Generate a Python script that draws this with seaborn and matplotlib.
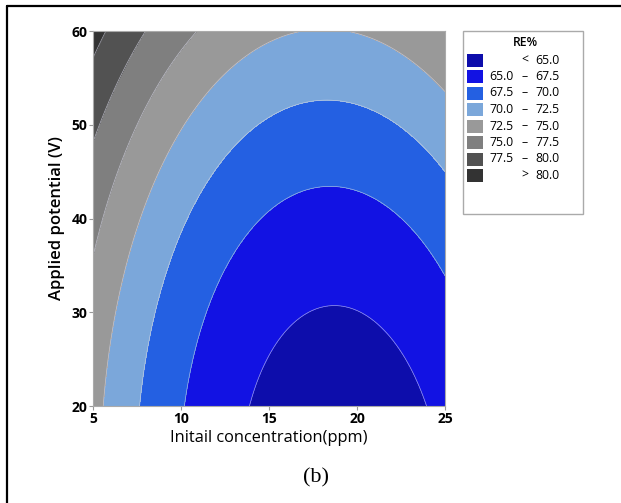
import numpy as np
import pandas as pd
import matplotlib
matplotlib.use('Agg')
import matplotlib.pyplot as plt
import seaborn as sns
from matplotlib.patches import Rectangle
from matplotlib.lines import Line2D

# contour crossings: (concentration, potential, RE%)
pts_conc = [13.9, 23.8, 18.7, 14.7, 22.9,
            10.2, 18.6, 25.0, 11.25,
            7.67, 18.3, 25.0, 9.94,
            5.57, 18.0, 25.0, 8.1, 9.8,
            5.0, 10.8, 7.67,
            5.0, 7.95,
            5.0, 5.74]
pts_volt = [20.0, 20.0, 29.8, 25.0, 25.0,
            20.0, 42.7, 34.2, 30.0,
            20.0, 52.3, 45.5, 40.0,
            20.0, 60.0, 53.5, 40.0, 50.0,
            36.3, 60.0, 50.0,
            47.8, 60.0,
            57.2, 60.0]
pts_re = [65.0, 65.0, 65.0, 65.0, 65.0,
          67.5, 67.5, 67.5, 67.5,
          70.0, 70.0, 70.0, 70.0,
          72.5, 72.5, 72.5, 72.5, 72.5,
          75.0, 75.0, 75.0,
          77.5, 77.5,
          80.0, 80.0]

levels = [65.0, 67.5, 70.0, 72.5, 75.0, 77.5, 80.0]
level_colors = ['#0d0dab', '#1212e3', '#2460e2', '#7ba7da',
                '#999999', '#7f7f7f', '#525252', '#333333']
legend_labels = [('', '<', '65.0'), ('65.0', '–', '67.5'), ('67.5', '–', '70.0'),
                 ('70.0', '–', '72.5'), ('72.5', '–', '75.0'), ('75.0', '–', '77.5'),
                 ('77.5', '–', '80.0'), ('', '>', '80.0')]

df = pd.DataFrame({'x': pts_conc, 'y': pts_volt, 're': pts_re})

# full quadratic response surface fitted to the read crossings
A = np.column_stack([np.ones(len(df)), df.x, df.y, df.x**2, df.y**2, df.x*df.y])
coef, *_ = np.linalg.lstsq(A, df.re.values, rcond=None)

gx, gy = np.meshgrid(np.linspace(5, 25, 300), np.linspace(20, 60, 300))
gz = (coef[0] + coef[1]*gx + coef[2]*gy + coef[3]*gx**2
      + coef[4]*gy**2 + coef[5]*gx*gy)

sns.set_theme(style='white')
plt.rcParams['font.family'] = ['Open Sans', 'DejaVu Sans']
plt.rcParams['text.color'] = 'black'
plt.rcParams['axes.labelcolor'] = 'black'
plt.rcParams['xtick.color'] = 'black'
plt.rcParams['ytick.color'] = 'black'

fig = plt.figure(figsize=(6.21, 5.03), dpi=100)
ax = fig.add_axes([0.1498, 0.1928, 0.5668, 0.7455])

bounds = [min(gz.min(), 60) - 1] + levels + [max(gz.max(), 85) + 1]
ax.contourf(gx, gy, gz, levels=bounds, colors=level_colors)
ax.contour(gx, gy, gz, levels=levels, colors='#d8d8e8', linewidths=0.5, alpha=0.7)

ax.set_xlim(5, 25)
ax.set_ylim(20, 60)
ax.set_xticks([5, 10, 15, 20, 25])
ax.set_yticks([20, 30, 40, 50, 60])
ax.tick_params(axis='both', which='both', direction='out', length=3, width=0.8,
               color='#999999', labelcolor='black', labelsize=10, pad=1,
               left=True, bottom=True)
for lab in ax.get_xticklabels() + ax.get_yticklabels():
    lab.set_fontweight('bold')
for s in ax.spines.values():
    s.set_color('#aaaaaa')
    s.set_linewidth(0.8)

ax.set_xlabel('Initail concentration(ppm)', fontsize=11.8, labelpad=3)
ax.set_ylabel('Applied potential (V)', fontsize=12, fontweight='semibold', labelpad=5)

# legend box drawn in pixel coords
W, H = 621, 503
def fx(px): return px / W
def fy(py): return 1 - py / H

fig.patches.append(Rectangle((fx(463), fy(214)), fx(583) - fx(463), fy(31) - fy(214),
                             transform=fig.transFigure, facecolor='white',
                             edgecolor='#aaaaaa', linewidth=1))
fig.text(fx(525), fy(43), 'RE%', ha='center', va='center', fontsize=8.8, fontweight='semibold')
for i, (lo, sym, hi) in enumerate(legend_labels):
    cy = 60 + i * 16.5
    fig.patches.append(Rectangle((fx(467), fy(cy + 6.5)), fx(483) - fx(467), 13 / H,
                                 transform=fig.transFigure, facecolor=level_colors[i],
                                 edgecolor='none'))
    if lo:
        fig.text(fx(489), fy(cy), lo, ha='left', va='center', fontsize=8.8)
    fig.text(fx(525), fy(cy), sym, ha='center', va='center', fontsize=8.8)
    fig.text(fx(560), fy(cy), hi, ha='right', va='center', fontsize=8.8)

fig.text(fx(316), fy(478), '(b)', ha='center', va='center', fontsize=16,
         family='Liberation Serif')

# table-cell border
fig.add_artist(Line2D([fx(7), 1], [fy(6), fy(6)], color='black', lw=1.6,
                      transform=fig.transFigure))
fig.add_artist(Line2D([fx(7), fx(7)], [fy(6), 0], color='black', lw=1.6,
                      transform=fig.transFigure))

fig.savefig('out.png', dpi=100, facecolor='white')
